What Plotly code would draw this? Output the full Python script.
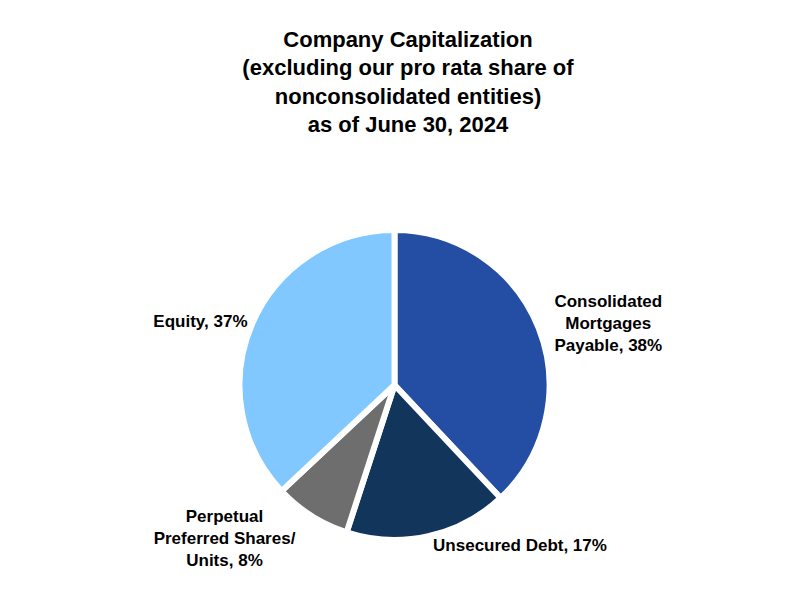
import plotly.graph_objects as go

labels = ["Consolidated<br>Mortgages<br>Payable", "Unsecured Debt",
          "Perpetual<br>Preferred Shares/<br>Units", "Equity"]
values = [38, 17, 8, 37]
colors = ["#244EA3", "#12355B", "#6E6E6E", "#80C8FF"]

fig = go.Figure(go.Pie(
    labels=labels,
    values=values,
    sort=False,
    direction="clockwise",
    rotation=0,
    marker=dict(colors=colors, line=dict(color="white", width=6)),
    textposition="outside",
    texttemplate="<b>%{label}, %{value}%</b>",
    textfont=dict(family="Liberation Sans, Arial", size=17, color="black"),
    showlegend=False,
    domain=dict(x=[0.05, 0.95], y=[0, 1]),
))

fig.update_layout(
    title=dict(
        text="<b>Company Capitalization<br>(excluding our pro rata share of<br>"
             "nonconsolidated entities)<br>as of June 30, 2024</b>",
        x=0.5, y=0.935, xanchor="center", yanchor="top",
        font=dict(family="Liberation Sans, Arial", size=22, color="black"),
    ),
    width=800, height=594,
    margin=dict(t=222, b=62, l=40, r=40),
    paper_bgcolor="white",
)

fig.write_html("out.html")
